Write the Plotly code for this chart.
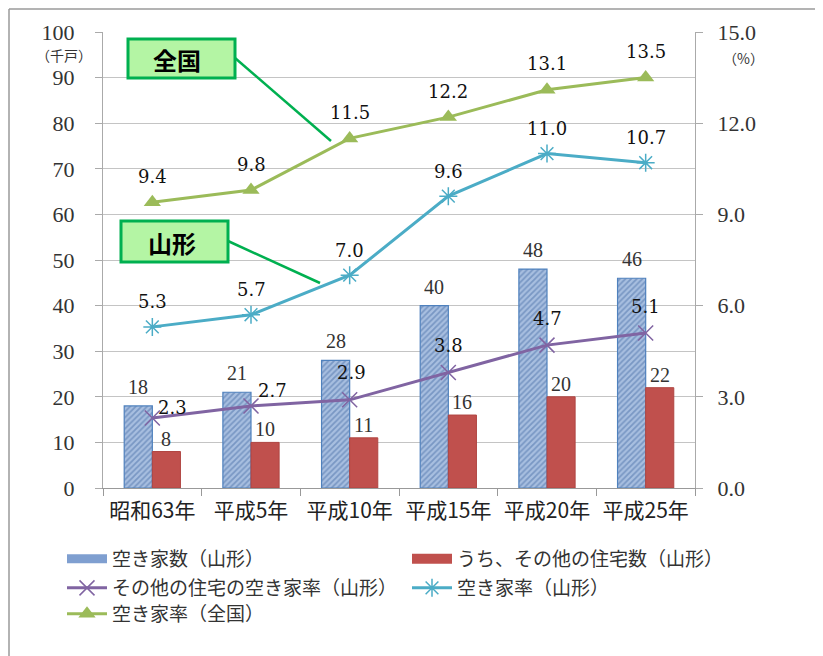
import plotly.graph_objects as go

categories = ["昭和63年", "平成5年", "平成10年", "平成15年", "平成20年", "平成25年"]
akiya_count = [18, 21, 28, 40, 48, 46]
other_count = [8, 10, 11, 16, 20, 22]
other_rate = [2.3, 2.7, 2.9, 3.8, 4.7, 5.1]
yamagata_rate = [5.3, 5.7, 7.0, 9.6, 11.0, 10.7]
national_rate = [9.4, 9.8, 11.5, 12.2, 13.1, 13.5]

left_ticks = list(range(0, 101, 10))
right_ticks = [0, 3, 6, 9, 12, 15]

serif = "Liberation Serif"
serif2 = "DejaVu Serif"
jp = "Noto Sans CJK JP"

# page body has an 8px margin; figure is sized so it fills the window
OFF = 8
W, H = 823 - OFF, 656 - OFF
L0, R0, T0, B0 = 103, 695, 32, 488   # plot area in window pixels
L, R, T, B = L0 - OFF, 823 - R0, T0 - OFF, 656 - B0

def px(x):
    return (x - L0) / (R0 - L0)

def py(y):
    return (B0 - y) / (B0 - T0)

fig = go.Figure()
fig.add_trace(go.Bar(
    x=categories, y=akiya_count, name="空き家数（山形）", showlegend=False,
    marker=dict(color="#a8bfe0", line=dict(color="#4f81bd", width=1.2),
                pattern=dict(shape="/", fgcolor="#4a6fa8", bgcolor="#a8bfe0", size=4, solidity=0.45)),
    offsetgroup="a"))
fig.add_trace(go.Bar(
    x=categories, y=other_count, name="うち、その他の住宅数（山形）", showlegend=False,
    marker=dict(color="#c0504d", line=dict(color="#b04542", width=1)),
    offsetgroup="b"))
# legend stand-ins for the bar series (wide rectangle swatches)
fig.add_trace(go.Scatter(x=[None], y=[None], name="空き家数（山形）", legend="legend",
                         mode="lines", line=dict(color="#7f9fd0", width=9)))
fig.add_trace(go.Scatter(x=[None], y=[None], name="うち、その他の住宅数（山形）", legend="legend2",
                         mode="lines", line=dict(color="#c0504d", width=10)))
fig.add_trace(go.Scatter(
    x=categories, y=other_rate, yaxis="y2", name="その他の住宅の空き家率（山形）", legend="legend3",
    mode="lines+markers", line=dict(color="#8064a2", width=3),
    marker=dict(symbol="x-thin-open", size=15, line=dict(color="#8064a2", width=1.5))))
fig.add_trace(go.Scatter(
    x=categories, y=yamagata_rate, yaxis="y2", name="空き家率（山形）", legend="legend4",
    mode="lines+markers", line=dict(color="#4bacc6", width=3),
    marker=dict(symbol="asterisk-open", size=15, line=dict(color="#4bacc6", width=1.5))))
fig.add_trace(go.Scatter(
    x=categories, y=national_rate, yaxis="y2", name="空き家率（全国）", legend="legend5",
    mode="lines+markers", line=dict(color="#9bbb59", width=3),
    marker=dict(symbol="triangle-up", size=15, color="#9bbb59")))

annotations = []
lab_font = dict(family=serif2, size=18, color="#111")
bar_font = dict(family=serif, size=20, color="#333")
for c, v in zip(categories, akiya_count):
    annotations.append(dict(x=c, y=v, xref="x", yref="y", text=str(v), showarrow=False,
                            xshift=-14, yshift=19, font=bar_font))
for c, v in zip(categories, other_count):
    annotations.append(dict(x=c, y=v, xref="x", yref="y", text=str(v), showarrow=False,
                            xshift=14, yshift=13, font=bar_font))
purple_shift = [(20, 11), (21, 15), (2, 27), (0, 27), (0, 27), (0, 26)]
for (c, v), (dx, dy) in zip(zip(categories, other_rate), purple_shift):
    annotations.append(dict(x=c, y=v, xref="x", yref="y2", text=f"{v:.1f}", showarrow=False,
                            xshift=dx, yshift=dy, font=lab_font))
for c, v in zip(categories, yamagata_rate):
    annotations.append(dict(x=c, y=v, xref="x", yref="y2", text=f"{v:.1f}", showarrow=False,
                            yshift=25, font=lab_font))
for c, v in zip(categories, national_rate):
    annotations.append(dict(x=c, y=v, xref="x", yref="y2", text=f"{v:.1f}", showarrow=False,
                            yshift=26, font=lab_font))

shapes = [
    dict(type="line", xref="paper", yref="paper", x0=px(9), y0=py(9), x1=px(823), y1=py(9),
         line=dict(color="#9a9a9a", width=1.5)),
    dict(type="line", xref="paper", yref="paper", x0=px(9), y0=py(9), x1=px(9), y1=py(660),
         line=dict(color="#9a9a9a", width=1.5)),
    dict(type="rect", xref="paper", yref="paper", x0=px(128), y0=py(39), x1=px(235), y1=py(78),
         fillcolor="#b4f5a4", line=dict(color="#00b050", width=3)),
    dict(type="line", xref="paper", yref="paper", x0=px(235), y0=py(58), x1=px(331), y1=py(141),
         line=dict(color="#00b050", width=2.5)),
    dict(type="rect", xref="paper", yref="paper", x0=px(121), y0=py(221), x1=px(228), y1=py(262),
         fillcolor="#b4f5a4", line=dict(color="#00b050", width=3)),
    dict(type="line", xref="paper", yref="paper", x0=px(228), y0=py(241), x1=px(320), y1=py(283),
         line=dict(color="#00b050", width=2.5)),
]

annotations += [
    dict(text="<b>全国</b>", xref="paper", yref="paper", x=px(177), y=py(59), xanchor="center",
         yanchor="middle", showarrow=False, font=dict(family=jp, size=24, color="#000")),
    dict(text="<b>山形</b>", xref="paper", yref="paper", x=px(172), y=py(242), xanchor="center",
         yanchor="middle", showarrow=False, font=dict(family=jp, size=24, color="#000")),
    dict(text="（千戸）", xref="paper", yref="paper", x=px(64), y=py(55), xanchor="center",
         yanchor="middle", showarrow=False, font=dict(family=jp, size=14, color="#333")),
    dict(text="（%）", xref="paper", yref="paper", x=px(743), y=py(58), xanchor="center",
         yanchor="middle", showarrow=False, font=dict(family=jp, size=14, color="#333")),
]

leg_common = dict(orientation="h", xanchor="left", yanchor="middle",
                  font=dict(family=jp, size=19, color="#333"), itemwidth=40,
                  bgcolor="rgba(0,0,0,0)")
LX, RX = 62, 407

fig.update_layout(
    width=W, height=H, margin=dict(l=L, r=R, t=T, b=B, autoexpand=False),
    paper_bgcolor="white", plot_bgcolor="white",
    barmode="group", bargap=0.43, bargroupgap=0,
    showlegend=True,
    legend=dict(x=px(LX), y=py(559), **leg_common),
    legend2=dict(x=px(RX), y=py(559), **leg_common),
    legend3=dict(x=px(LX), y=py(588), **leg_common),
    legend4=dict(x=px(RX), y=py(588), **leg_common),
    legend5=dict(x=px(LX), y=py(614), **leg_common),
    xaxis=dict(type="category", ticks="outside", tickson="boundaries", ticklen=7,
               tickcolor="#999", showline=True, linecolor="#999", linewidth=1,
               ticklabelstandoff=4,
               tickfont=dict(family=jp, size=21, color="#222"), showgrid=False),
    yaxis=dict(range=[0, 100], tickvals=left_ticks, ticks="outside", ticklen=7, tickcolor="#aaa",
               showgrid=True, gridcolor="#c4c4c4", gridwidth=1, showline=True, linecolor="#aaa",
               ticklabelstandoff=16,
               tickfont=dict(family=serif, size=22, color="#333"), zeroline=False),
    yaxis2=dict(range=[0, 15], tickvals=right_ticks, ticktext=[f"{v:.1f}" for v in right_ticks],
                overlaying="y", side="right", ticks="outside", ticklen=7, tickcolor="#aaa",
                showgrid=False, showline=True, linecolor="#aaa", ticklabelstandoff=10,
                tickfont=dict(family=serif, size=22, color="#333"), zeroline=False),
    shapes=shapes, annotations=annotations,
)

fig.write_html("out.html")
